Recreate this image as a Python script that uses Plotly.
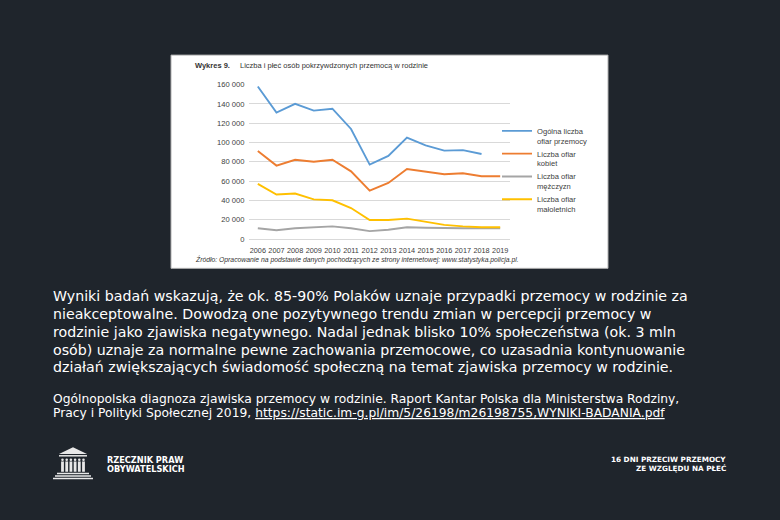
import plotly.graph_objects as go

W, H = 780, 520

years = ["2006", "2007", "2008", "2009", "2010", "2011", "2012",
         "2013", "2014", "2015", "2016", "2017", "2018", "2019"]
ogolna = [158000, 131000, 140000, 133000, 135000, 114000, 77000,
          86000, 105000, 97000, 91500, 92000, 88000, None]
kobiety = [91000, 76000, 82000, 80000, 82000, 70000, 50000,
           58000, 72500, 70000, 67000, 68000, 65000, 65000]
mezczyzni = [11000, 9000, 11000, 12000, 13000, 11000, 8000,
             9500, 12000, 11500, 11000, 11000, 11000, 11000]
maloletni = [57000, 46000, 47000, 41000, 40000, 32000, 19500,
             19500, 21000, 17500, 14500, 13000, 12000, 12000]
series_names = ["Ogólna liczba<br>ofiar przemocy", "Liczba ofiar<br>kobiet",
                "Liczba ofiar<br>mężczyzn", "Liczba ofiar<br>małoletnich"]
series_colors = ["#5b9bd5", "#ed7d31", "#a5a5a5", "#ffc000"]
y_ticks = [0, 20000, 40000, 60000, 80000, 100000, 120000, 140000, 160000]
y_ticktext = ["0", "20 000", "40 000", "60 000", "80 000", "100 000",
              "120 000", "140 000", "160 000"]

body_lines = [
    "Wyniki badań wskazują, że ok. 85-90% Polaków uznaje przypadki przemocy w rodzinie za",
    "nieakceptowalne. Dowodzą one pozytywnego trendu zmian w percepcji przemocy w",
    "rodzinie jako zjawiska negatywnego. Nadal jednak blisko 10% społeczeństwa (ok. 3 mln",
    "osób) uznaje za normalne pewne zachowania przemocowe, co uzasadnia kontynuowanie",
    "działań zwiększających świadomość społeczną na temat zjawiska przemocy w rodzinie.",
]
link = "https://static.im-g.pl/im/5/26198/m26198755,WYNIKI-BADANIA.pdf"
caption_lines = [
    "Ogólnopolska diagnoza zjawiska przemocy w rodzinie. Raport Kantar Polska dla Ministerstwa Rodziny,",
    "Pracy i Polityki Społecznej 2019, <a href='" + link + "' style='color:#ffffff'><u>" + link + "</u></a>",
]
footer_left = ["RZECZNIK PRAW", "OBYWATELSKICH"]
footer_right = ["16 DNI PRZECIW PRZEMOCY", "ZE WZGLĘDU NA PŁEĆ"]

BG = "#1f252c"


def px(x):
    return x / W


def py(y):
    return 1 - y / H


fig = go.Figure()
for name, vals, col in zip(series_names,
                           [ogolna, kobiety, mezczyzni, maloletni],
                           series_colors):
    fig.add_trace(go.Scatter(x=years, y=vals, name=name, mode="lines",
                             line=dict(color=col, width=1.9),
                             connectgaps=False))

shapes = []
# white chart card
shapes.append(dict(type="rect", xref="paper", yref="paper",
                   x0=px(171), x1=px(608), y0=py(269), y1=py(52),
                   fillcolor="#ffffff", line=dict(color="#b0b0b0", width=1),
                   layer="below"))


def rect(x0, y0, x1, y1):
    return dict(type="rect", xref="paper", yref="paper",
                x0=px(x0), x1=px(x1), y0=py(y1), y1=py(y0),
                fillcolor="#e8e8e8", line=dict(width=0))


# logo (pediment, figures, steps)
shapes.append(dict(type="path", xref="paper", yref="paper",
                   path="M {} {} L {} {} L {} {} Z".format(
                       px(59), py(458), px(73), py(451), px(87), py(458)),
                   fillcolor="#e8e8e8", line=dict(width=0)))
shapes.append(rect(59, 459, 87, 460.5))
for i in range(6):
    cx = 62.5 + i * 4.2
    shapes.append(dict(type="circle", xref="paper", yref="paper",
                       x0=px(cx - 1.3), x1=px(cx + 1.3),
                       y0=py(465), y1=py(462.4),
                       fillcolor="#e8e8e8", line=dict(width=0)))
    shapes.append(rect(cx - 1.4, 465.5, cx + 1.4, 476))
shapes.append(rect(57, 477, 89, 478.5))
shapes.append(rect(55, 479.5, 91, 481))
shapes.append(rect(53, 482, 93, 483.5))

annotations = []
# chart title
annotations.append(dict(xref="paper", yref="paper", x=px(193), y=py(62.5),
                        xanchor="left", yanchor="middle", showarrow=False,
                        text="<b>Wykres 9.</b>",
                        font=dict(family="Liberation Sans", size=7.5, color="#333333")))
annotations.append(dict(xref="paper", yref="paper", x=px(238), y=py(62.5),
                        xanchor="left", yanchor="middle", showarrow=False,
                        text="Liczba i płeć osób pokrzywdzonych przemocą w rodzinie",
                        font=dict(family="Liberation Sans", size=7.5, color="#333333")))
annotations.append(dict(xref="paper", yref="paper", x=px(193), y=py(259.5),
                        xanchor="left", yanchor="middle", showarrow=False,
                        text="<i>Źródło: Opracowanie na podstawie danych pochodzących ze strony internetowej: www.statystyka.policja.pl.</i>",
                        font=dict(family="Liberation Sans", size=6.8, color="#333333")))
# body text
for i, line in enumerate(body_lines):
    annotations.append(dict(xref="paper", yref="paper", x=px(51), y=py(297.5 + 18.1 * i),
                            xanchor="left", yanchor="middle", showarrow=False,
                            text=line,
                            font=dict(family="DejaVu Sans", size=14.2, color="#ffffff")))
for i, line in enumerate(caption_lines):
    annotations.append(dict(xref="paper", yref="paper", x=px(51), y=py(401.7 + 15 * i),
                            xanchor="left", yanchor="middle", showarrow=False,
                            text=line,
                            font=dict(family="DejaVu Sans", size=12.3, color="#ffffff")))
# footer
for i, t in enumerate(footer_left):
    annotations.append(dict(xref="paper", yref="paper", x=px(105), y=py(464 + 9.3 * i),
                            xanchor="left", yanchor="middle", showarrow=False,
                            text="<b>" + t + "</b>",
                            font=dict(family="DejaVu Sans", size=8.2, color="#ffffff")))
for i, t in enumerate(footer_right):
    annotations.append(dict(xref="paper", yref="paper", x=px(728), y=py(463.5 + 9.3 * i),
                            xanchor="right", yanchor="middle", showarrow=False,
                            text="<b>" + t + "</b>",
                            font=dict(family="DejaVu Sans", size=7.25, color="#ffffff")))

fig.update_layout(
    width=W, height=H,
    margin=dict(l=0, r=0, t=0, b=0),
    paper_bgcolor=BG, plot_bgcolor="#ffffff",
    shapes=shapes, annotations=annotations,
    showlegend=True,
    legend=dict(x=px(497), y=py(117.5), xanchor="left", yanchor="top",
                valign="top", bgcolor="rgba(0,0,0,0)",
                font=dict(family="Liberation Sans", size=7.6, color="#404040"),
                tracegroupgap=0, itemwidth=30),
    xaxis=dict(domain=[px(248.5), px(509.5)], type="category",
               range=[-0.5, 13.5], showgrid=False, zeroline=False,
               showline=True, linecolor="#d9d9d9", linewidth=1,
               ticks="", ticklabelstandoff=4, tickangle=0,
               tickfont=dict(family="Liberation Sans", size=7.3, color="#404040"),
               fixedrange=True),
    yaxis=dict(domain=[1 - 239 / H, 1 - 82 / H], range=[0, 160000],
               tickvals=y_ticks, ticktext=y_ticktext,
               showgrid=True, gridcolor="#d9d9d9", gridwidth=1,
               zeroline=False, showline=False, ticks="", ticklabelstandoff=3,
               tickfont=dict(family="Liberation Sans", size=7.6, color="#404040"),
               fixedrange=True),
)

fig.write_html("out.html")
